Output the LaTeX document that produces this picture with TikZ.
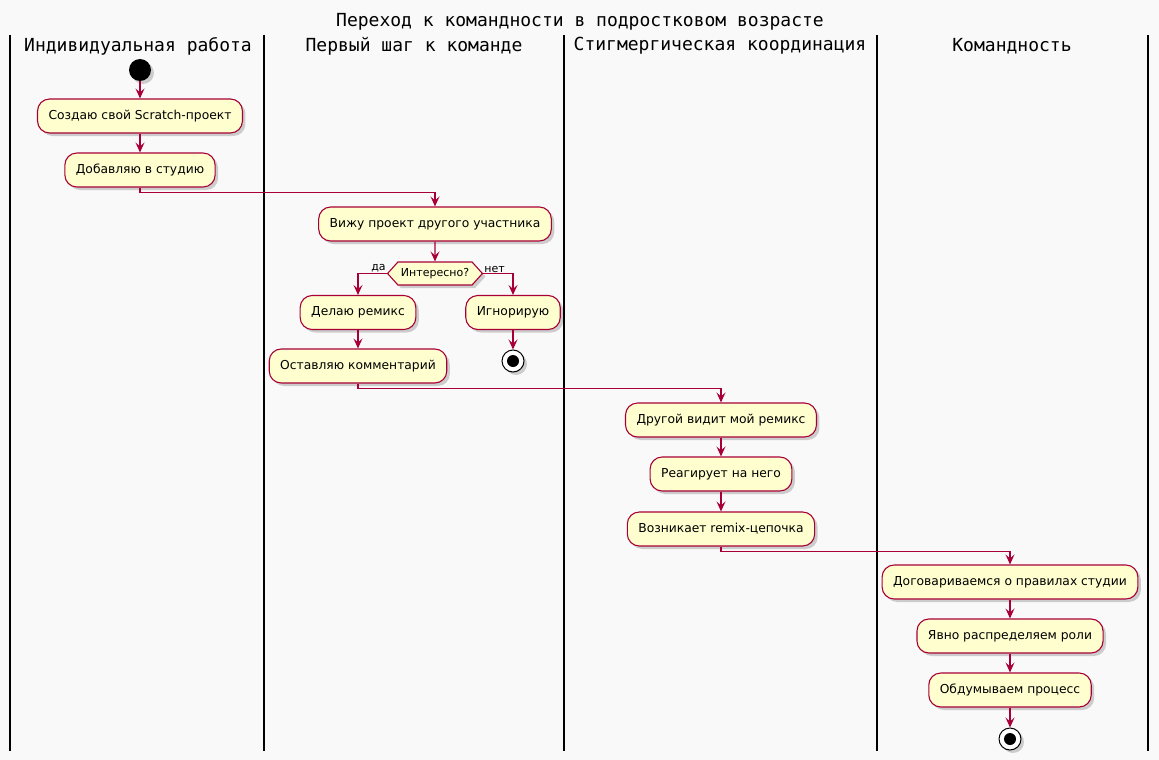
\documentclass[tikz,border=0pt]{standalone}
\usepackage{fontspec}
\setmainfont{DejaVu Sans}
\newfontfamily\lanefont{DejaVu Sans Mono}
\usetikzlibrary{arrows.meta,shadows,shapes.symbols}
\definecolor{umlred}{HTML}{A80036}
\definecolor{umlfill}{HTML}{FEFECE}
\definecolor{umlback}{HTML}{F9F9F9}
\tikzset{
  shade/.style={drop shadow={shadow xshift=3pt,shadow yshift=-3pt,opacity=0.3,fill=black!60}},
  act/.style={draw=umlred,fill=umlfill,line width=1.1pt,rounded corners=12pt,minimum height=34pt,inner xsep=11pt,font=\fontsize{12.3}{14}\selectfont,shade},
  decision/.style={shape=signal,signal to=east and west,signal pointer angle=96,draw=umlred,fill=umlfill,line width=1.1pt,minimum height=23pt,inner xsep=3pt,font=\fontsize{11}{13}\selectfont,shade},
  flow/.style={draw=umlred,line width=1.2pt,-{Stealth[length=10pt,width=9pt,inset=4pt]}},
  lane/.style={line width=2pt},
  head/.style={font=\lanefont\fontsize{18}{20}\selectfont},
  lbl/.style={font=\fontsize{11}{13}\selectfont,inner sep=1pt},
  startdot/.style={circle,fill=black,minimum size=22pt,inner sep=0pt,shade},
  stopdot/.style={circle,draw=black,fill=white,line width=1pt,minimum size=22pt,inner sep=0pt,shade,path picture={\fill[black] (path picture bounding box.center) circle (6pt);}}
}
\begin{document}
\begin{tikzpicture}[x=1pt,y=-1pt]
  \fill[umlback] (0,0) rectangle (1159,760);
  \foreach \x in {10,264,564,877,1148} \draw[lane] (\x,35) -- (\x,751);
  \node[head] (title) at (580,22) {Переход к командности в подростковом возрасте};
  \node[head] (lane1) at (138,46) {Индивидуальная работа};
  \node[head] (lane2) at (414,46) {Первый шаг к команде};
  \node[head] (lane3) at (720,46) {Стигмергическая координация};
  \node[head] (lane4) at (1012,46) {Командность};

  \node[startdot] (start) at (140,70) {};
  \node[act] (create) at (140,116) {Создаю свой Scratch-проект};
  \node[act] (addst) at (140,170) {Добавляю в студию};
  \node[act] (see) at (435,224) {Вижу проект другого участника};
  \node[decision] (ask) at (435,273.5) {Интересно?};
  \node[act] (remix) at (358,312.5) {Делаю ремикс};
  \node[act] (ignore) at (513,312.5) {Игнорирую};
  \node[stopdot] (stop1) at (513,361) {};
  \node[act] (comment) at (358,366) {Оставляю комментарий};
  \node[act] (other) at (721,420) {Другой видит мой ремикс};
  \node[act] (react) at (721,474) {Реагирует на него};
  \node[act] (chain) at (721,529) {Возникает remix-цепочка};
  \node[act] (rules) at (1010,582) {Договариваемся о правилах студии};
  \node[act] (roles) at (1010,636) {Явно распределяем роли};
  \node[act] (process) at (1010,690) {Обдумываем процесс};
  \node[stopdot] (stop2) at (1010,739) {};

  \node[lbl,anchor=south east] at (ask.west) {да};
  \node[lbl,anchor=south west] at (ask.east) {нет};

  \draw[flow] (start) -- (create);
  \draw[flow] (create) -- (addst);
  \draw[flow] (addst.south) -- ++(0,5) -| (see.north);
  \draw[flow] (see) -- (ask);
  \draw[flow] (ask.west) -| (remix.north);
  \draw[flow] (ask.east) -| (ignore.north);
  \draw[flow] (ignore) -- (stop1);
  \draw[flow] (remix) -- (comment);
  \draw[flow] (comment.south) -- ++(0,5) -| (other.north);
  \draw[flow] (other) -- (react);
  \draw[flow] (react) -- (chain);
  \draw[flow] (chain.south) -- ++(0,5) -| (rules.north);
  \draw[flow] (rules) -- (roles);
  \draw[flow] (roles) -- (process);
  \draw[flow] (process) -- (stop2);
\end{tikzpicture}
\end{document}
